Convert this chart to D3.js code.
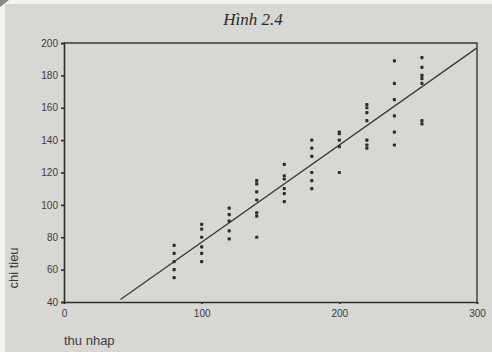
<!DOCTYPE html>
<html>
<head>
<meta charset="utf-8">
<script src="https://cdn.jsdelivr.net/npm/d3@7/dist/d3.min.js"></script>
<style>
  body { margin: 0; background: #d7d7d4; }
  svg { display: block; }
</style>
</head>
<body>
<svg id="chart" width="492" height="352"></svg>
<script>
// weekly income (thu nhap) groups and consumption (chi tieu) observations
const incomes = [80, 100, 120, 140, 160, 180, 200, 220, 240, 260];
const spending = [
  [55, 60, 65, 70, 75],
  [65, 70, 74, 80, 85, 88],
  [79, 84, 90, 94, 98],
  [80, 93, 95, 103, 108, 113, 115],
  [102, 107, 110, 116, 118, 125],
  [110, 115, 120, 130, 135, 140],
  [120, 136, 140, 144, 145],
  [135, 137, 140, 152, 157, 160, 162],
  [137, 145, 155, 165, 175, 189],
  [150, 152, 175, 178, 180, 185, 191]
];
const lineCoef = [17, 0.6];   // E(Y|X) = 17 + 0.6X
const lineFrom = 41, lineTo = 300;
const xTicks = [0, 100, 200, 300];
const yTicks = [40, 60, 80, 100, 120, 140, 160, 180, 200];

const svg = d3.select("#chart");
const W = 492, H = 352;
const m = { left: 64, right: 477, top: 43, bottom: 302 };

// paper
svg.append("rect").attr("width", W).attr("height", H).attr("fill", "#d7d7d4");
svg.append("path").attr("d", "M0,0H492V4H5V352H0Z").attr("fill", "#f2f2f0");
svg.append("path").attr("d", "M0,0H9L0,7Z").attr("fill", "#8a8a88");

const x = d3.scaleLinear().domain([0, 300]).range([m.left, m.right]);
const y = d3.scaleLinear().domain([40, 200]).range([m.bottom, m.top]);

svg.append("text")
  .attr("x", 253).attr("y", 25)
  .attr("text-anchor", "middle")
  .attr("font-family", "Liberation Serif, serif")
  .attr("font-style", "italic")
  .attr("font-size", 17)
  .attr("fill", "#2a2a2a")
  .text("Hình 2.4");

// frame: top and right
svg.append("path")
  .attr("d", `M${x(0)},${y(200)}H${x(300)}V${y(40)}`)
  .attr("fill", "none").attr("stroke", "#3a3a3a").attr("stroke-width", 1.4);

const yAxis = svg.append("g")
  .attr("transform", `translate(${m.left},0)`)
  .call(d3.axisLeft(y).tickValues(yTicks).tickSize(3).tickPadding(3));
const xAxis = svg.append("g")
  .attr("transform", `translate(0,${m.bottom})`)
  .call(d3.axisBottom(x).tickValues(xTicks).tickSize(2).tickPadding(6));

[yAxis, xAxis].forEach(g => {
  g.select(".domain").attr("stroke", "#2e2e2e").attr("stroke-width", 1.6);
  g.selectAll(".tick line").attr("stroke", "#2e2e2e").attr("stroke-width", 1.6);
  g.selectAll(".tick text")
    .attr("font-family", "Liberation Sans, Arial, sans-serif")
    .attr("font-size", 10).attr("fill", "#3c3c3c");
});

// regression line
svg.append("line")
  .attr("x1", x(lineFrom)).attr("y1", y(lineCoef[0] + lineCoef[1] * lineFrom))
  .attr("x2", x(lineTo)).attr("y2", y(lineCoef[0] + lineCoef[1] * lineTo))
  .attr("stroke", "#3a3a3a").attr("stroke-width", 1.3);

// scatter points
const pts = [];
incomes.forEach((inc, i) => spending[i].forEach(v => pts.push({ inc, v })));
svg.append("g").selectAll("rect")
  .data(pts)
  .enter()
  .append("rect")
  .attr("x", d => x(d.inc) - 1.6)
  .attr("y", d => y(d.v) - 1.6)
  .attr("width", 3.2).attr("height", 3.2)
  .attr("rx", 0.8)
  .attr("fill", "#2f2f2f");

// axis titles
svg.append("text")
  .attr("transform", "translate(18,268) rotate(-90)")
  .attr("text-anchor", "middle")
  .attr("font-family", "Liberation Sans, Arial, sans-serif")
  .attr("font-size", 13).attr("fill", "#3c3c3c")
  .text("chi tieu");
svg.append("text")
  .attr("x", 64).attr("y", 345)
  .attr("font-family", "Liberation Sans, Arial, sans-serif")
  .attr("font-size", 13).attr("fill", "#3c3c3c")
  .text("thu nhap");
</script>
</body>
</html>
